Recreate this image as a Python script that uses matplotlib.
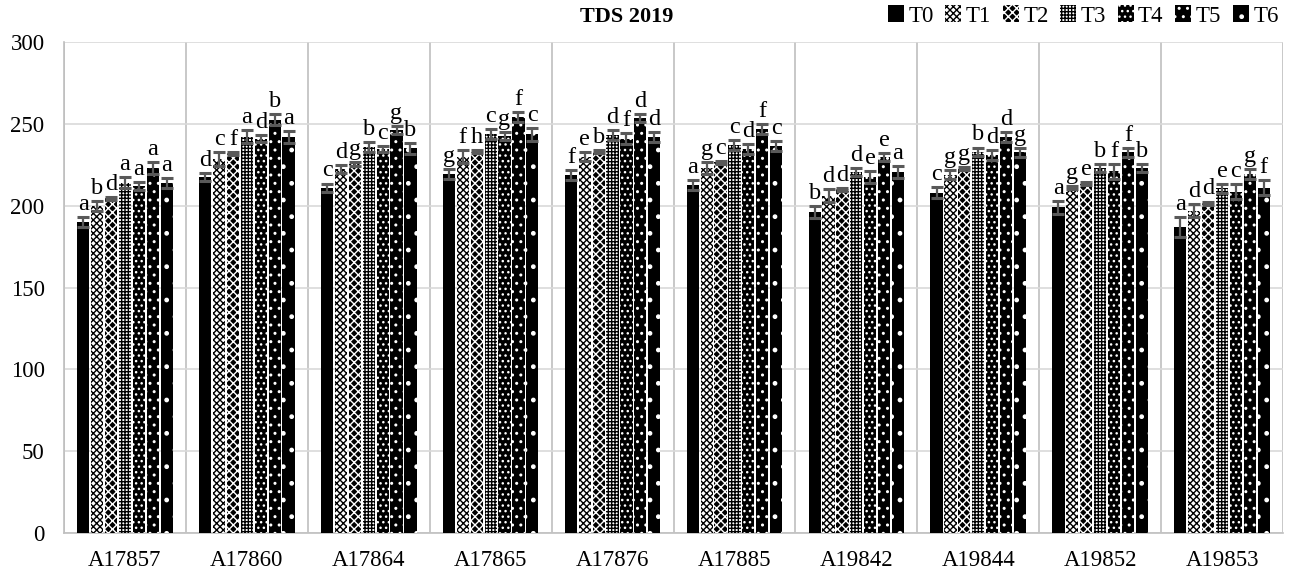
import matplotlib
matplotlib.use("Agg")
import matplotlib.pyplot as plt
import numpy as np

plt.rcParams['font.family'] = ['Liberation Serif', 'DejaVu Serif']
plt.rcParams['hatch.linewidth'] = 1.0

categories = ["A17857", "A17860", "A17864", "A17865", "A17876",
              "A17885", "A19842", "A19844", "A19852", "A19853"]
series = ["T0", "T1", "T2", "T3", "T4", "T5", "T6"]

T0 = [190, 217.5, 211, 219.5, 218.5, 212.5, 196, 208, 199, 187]
T1 = [200, 228.5, 222.5, 230, 230, 223, 206, 219, 211, 197]
T2 = [204.5, 232, 225.5, 233, 233, 226.5, 210, 222.5, 213.5, 201.5]
T3 = [214, 242, 236, 244, 243, 237, 220.5, 233, 223, 210.5]
T4 = [212, 241, 234.5, 242.5, 241, 234.5, 217.5, 231, 221, 208.5]
T5 = [223, 252.5, 246, 254, 253.5, 247, 229.5, 242, 232.5, 219.5]
T6 = [214, 242, 235, 243.5, 242, 236.5, 220.5, 232.5, 223, 211]

E0 = [3, 2.5, 2.5, 3, 3, 3, 3.5, 3.5, 4, 6]
E1 = [3, 4, 2.5, 4, 2.5, 3.5, 4, 3, 1, 4]
E2 = [1, 1, 1, 1, 1, 1, 1, 1, 1, 1]
E3 = [3.5, 4, 3, 3, 3, 3, 2.5, 2.5, 2.5, 2.5]
E4 = [2.5, 2, 2, 2.5, 3.5, 3, 3.5, 3, 4.5, 4.5]
E5 = [3.5, 3.5, 2.5, 3, 2.5, 3, 2.5, 3, 2.5, 3]
E6 = [3, 3.5, 3.5, 4, 3, 3, 3.5, 2.5, 2.5, 4.5]

L0 = ["a", "d", "c", "g", "f", "a", "b", "c", "a", "a"]
L1 = ["b", "c", "d", "f", "e", "g", "d", "g", "g", "d"]
L2 = ["d", "f", "g", "h", "b", "c", "d", "g", "e", "d"]
L3 = ["a", "a", "b", "c", "d", "c", "d", "b", "b", "e"]
L4 = ["a", "d", "c", "g", "f", "d", "e", "d", "f", "c"]
L5 = ["a", "b", "g", "f", "d", "f", "e", "d", "f", "g"]
L6 = ["a", "a", "b", "c", "d", "c", "a", "g", "b", "f"]

title = "TDS 2019"
yticks = [0, 50, 100, 150, 200, 250, 300]

values = [T0, T1, T2, T3, T4, T5, T6]
errors = [E0, E1, E2, E3, E4, E5, E6]
letters = [L0, L1, L2, L3, L4, L5, L6]

styles = [
    dict(facecolor="black", edgecolor="black", hatch=None),
    dict(facecolor="white", edgecolor="black", hatch="xxxxx"),
    dict(facecolor="black", edgecolor="white", hatch="xxxx"),
    dict(facecolor="white", edgecolor="black", hatch="+++++"),
    dict(facecolor="black", edgecolor="white", hatch="..."),
    dict(facecolor="black", edgecolor="white", hatch=".."),
    dict(facecolor="black", edgecolor="white", hatch="."),
]

fig = plt.figure(figsize=(12.99, 5.77), dpi=100)
ax = fig.add_axes([64/1299, 44/577, (1283-64)/1299, (533-42)/577])

n = len(series)
slot = 0.114
width = 0.100
x = np.arange(len(categories)) + 0.5
handles = []
for i in range(n):
    pos = x + (i - (n - 1) / 2) * slot
    st = styles[i]
    b = ax.bar(pos, values[i], width=width, facecolor=st["facecolor"],
               edgecolor=st["edgecolor"], hatch=st["hatch"], linewidth=0,
               zorder=3, label=series[i])
    handles.append(b)
    ax.errorbar(pos, values[i], yerr=errors[i], fmt="none", ecolor="#595959",
                elinewidth=1.6, capsize=4.2, capthick=2.2, zorder=4)
    for p, v, e, t in zip(pos, values[i], errors[i], letters[i]):
        ax.annotate(t, (p, v + e), xytext=(0, 1.5), textcoords="offset points",
                    ha="center", va="bottom", fontsize=17.5, zorder=5)

ax.set_xlim(0, len(categories))
ax.set_ylim(0, 300)
ax.set_yticks(yticks)
ax.set_xticks(x)
ax.set_xticklabels(categories)
ax.set_xticks(np.arange(len(categories) + 1), minor=True)
ax.tick_params(axis="both", which="both", length=0, labelsize=16.5)
ax.tick_params(axis="y", pad=14)
ax.tick_params(axis="x", pad=12)
ax.grid(axis="y", which="major", color="#d9d9d9", linewidth=1.2, zorder=0)
ax.grid(axis="x", which="minor", color="#bfbfbf", linewidth=1.2, zorder=0)
ax.grid(axis="x", which="major", visible=False)
for s in ["top", "right"]:
    ax.spines[s].set_visible(False)
for s in ["left", "bottom"]:
    ax.spines[s].set_color("#bfbfbf")
    ax.spines[s].set_linewidth(1.2)

fig.text(627/1299, 1 - 17/577, title, ha="center", va="center",
         fontsize=16, fontweight="bold")

fig.legend(handles=handles, labels=series, loc="center right",
           bbox_to_anchor=(1290/1299, 1 - 16/577), ncol=7, frameon=False,
           fontsize=16.5, handlelength=0.7, handleheight=0.7,
           handletextpad=0.2, columnspacing=0.5, borderpad=0)

fig.savefig("out.png", dpi=100)
